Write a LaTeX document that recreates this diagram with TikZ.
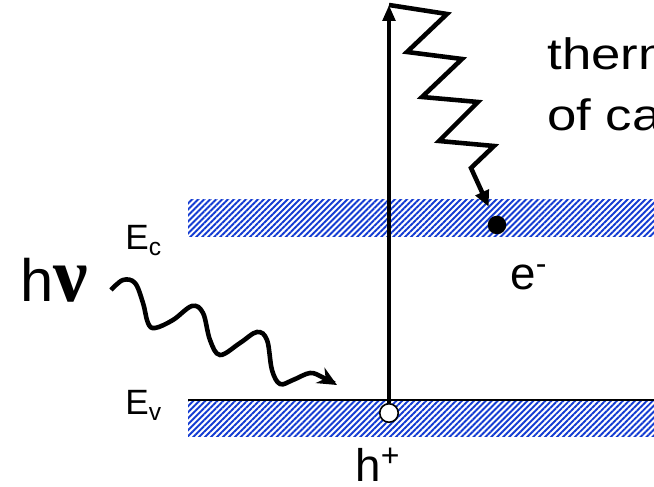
\documentclass[tikz,border=0pt]{standalone}
\usepackage{fontspec}
\setmainfont{Liberation Sans}
\newfontfamily\greekfont{Liberation Serif}
\usetikzlibrary{arrows.meta,patterns.meta}
\definecolor{bandblue}{RGB}{20,60,210}

\begin{document}
\begin{tikzpicture}[
  band/.style={pattern={Lines[angle=45,distance=2.4pt,line width=1.1pt]}, pattern color=bandblue},
  jump/.style={line width=2.5pt, -{Triangle[length=9pt,width=7pt]}},
  relax/.style={line width=2.6pt, line join=miter, -{Triangle[length=9pt,width=8pt]}, shorten >=6pt},
  photon/.style={line width=2.6pt, -{Stealth[length=11pt,width=10pt]}},
  carrier/.style={circle, minimum size=0.37cm, inner sep=0pt},
  txt/.style={inner sep=0pt, anchor=base west},
  note/.style={txt, font=\fontsize{25}{30}\selectfont}
]
  \useasboundingbox (0,0) rectangle (13.08,9.74);
  \clip (0,0) rectangle (13.08,9.74);

  \fill[band] (3.76,5.0) rectangle (13.08,5.74);
  \fill[band] (3.76,1.0) rectangle (13.08,1.74);
  \draw[line width=1.2pt] (3.76,1.74) -- (13.08,1.74);

  \node[txt, font=\fontsize{34}{40}\selectfont] (hnu) at (0.4,3.70) {h{\greekfont\bfseries\fontsize{44}{48}\selectfont ν}};
  \node[txt, font=\fontsize{20}{24}\selectfont] (Ec) at (2.5,4.74) {E\textsubscript{c}};
  \node[txt, font=\fontsize{20}{24}\selectfont] (Ev) at (2.5,1.44) {E\textsubscript{v}};
  \node[txt, font=\fontsize{26}{30}\selectfont] (eminus) at (10.2,3.94) {e\textsuperscript{-}};
  \node[txt, font=\fontsize{26}{30}\selectfont] (hplus) at (7.1,0.1) {h\textsuperscript{+}};
  \node[note] (therm) at (10.94,8.34) {\scalebox{1.2}[1]{thermalization}};
  \node[note] (carr) at (10.94,7.12) {\scalebox{1.2}[1]{of carriers}};

  \node[carrier, fill=black] (elec) at (9.94,5.24) {};
  \node[carrier, draw, fill=white, line width=0.9pt] (hole) at (7.78,1.48) {};
  \coordinate (top) at (7.78,9.64);
  \coordinate (phend) at (6.74,2.04);

  \draw[jump] (hole) -- (top);
  \draw[relax] (top) -- (8.94,9.46) -- (8.14,8.70) -- (9.24,8.56) -- (8.44,7.80)
    -- (9.56,7.70) -- (8.78,6.92) -- (9.88,6.82) -- (9.42,6.38) -- (elec);
  \draw[photon] plot[smooth, tension=0.6] coordinates {(2.22,3.94) (2.46,4.14) (2.70,4.08)
    (2.86,3.68) (2.96,3.28) (3.10,3.18) (3.46,3.34) (3.84,3.62) (4.06,3.48) (4.20,2.94)
    (4.40,2.64) (4.80,2.88) (5.14,3.10) (5.34,2.94) (5.44,2.34) (5.60,2.06) (5.86,2.14)
    (6.20,2.28) (6.44,2.20) (phend)};
\end{tikzpicture}
\end{document}
